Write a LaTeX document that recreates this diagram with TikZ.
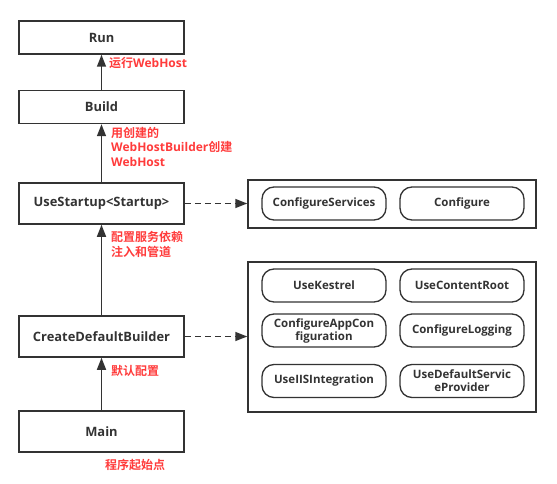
\documentclass[tikz,border=0pt]{standalone}
\usepackage{fontspec}
\setmainfont{Open Sans}[BoldFont={Open Sans Bold}]
\newfontfamily\cjk{Noto Sans CJK SC}[BoldFont={Noto Sans CJK SC Bold}]
\usetikzlibrary{arrows.meta,positioning}
\definecolor{ink}{HTML}{333333}
\definecolor{lab}{HTML}{FF3B3B}
\tikzset{
  x=1pt,y=-1pt,
  mainbox/.style={draw=ink,line width=1.5pt,minimum width=165pt,inner sep=0pt,font=\bfseries\fontsize{12.9}{15}\selectfont,text=ink},
  outerbox/.style={draw=ink,line width=1.5pt,minimum width=288pt,inner sep=0pt},
  innerbox/.style={draw=ink,line width=1.3pt,rounded corners=12pt,minimum width=124pt,minimum height=33pt,inner sep=0pt,align=center,font=\bfseries\fontsize{11.5}{13}\selectfont,text=ink},
  lbl/.style={anchor=west,inner sep=0pt,align=left,text=lab,font=\bfseries\fontsize{12}{14.5}\selectfont},
  tip/.tip={Triangle[length=12pt,width=9pt]},
  conn/.style={draw=ink,line width=1.5pt,arrows={-tip}},
  dconn/.style={conn,dash pattern=on 6pt off 4pt}
}
\begin{document}
\begin{tikzpicture}
\useasboundingbox (0,0) rectangle (557,484);
\node[mainbox,minimum height=33pt] (run) at (101.5,37.5) {Run};
\node[mainbox,minimum height=33pt] (build) at (101.5,107) {Build};
\node[mainbox,minimum height=41pt] (us) at (101.5,203.5) {UseStartup<Startup>};
\node[mainbox,minimum height=41pt] (cdb) at (101.5,336.5) {CreateDefaultBuilder};
\node[mainbox,minimum height=41pt] (main) at (101.5,431.5) {Main};

\node[outerbox,minimum height=48pt] (b1) at (392,204) {};
\node[innerbox] (cs) at (324,203.5) {ConfigureServices};
\node[innerbox] (cf) at (462,203.5) {Configure};

\node[outerbox,minimum height=150pt] (b2) at (392,337) {};
\node[innerbox] (uk) at (324,285.5) {UseKestrel};
\node[innerbox] (ucr) at (462,285.5) {UseContentRoot};
\node[innerbox] (cac) at (324,330.5) {ConfigureAppCon\\figuration};
\node[innerbox] (cl) at (462,330.5) {ConfigureLogging};
\node[innerbox] (uii) at (324,381) {UseIISIntegration};
\node[innerbox] (uds) at (462,381) {UseDefaultServic\\eProvider};

\draw[conn] (build.north) -- (run.south);
\draw[conn] (us.north) -- (build.south);
\draw[conn] (cdb.north) -- (us.south);
\draw[conn] (main.north) -- (cdb.south);
\draw[dconn] (us.east) -- (b1.west |- us.east);
\draw[dconn] (cdb.east) -- (b2.west |- cdb.east);

\node[lbl] (l1) at (109,63.5) {{\cjk 运行}WebHost};
\node[lbl] (l2) at (111,146.5) {{\cjk 用创建的}\\WebHostBuilder{\cjk 创建}\\WebHost};
\node[lbl] (l3) at (111,244.5) {{\cjk 配置服务依赖}\\{\cjk 注入和管道}};
\node[lbl] (l4) at (111,371) {\cjk 默认配置};
\node[lbl] (l5) at (105,465) {\cjk 程序起始点};
\end{tikzpicture}
\end{document}
